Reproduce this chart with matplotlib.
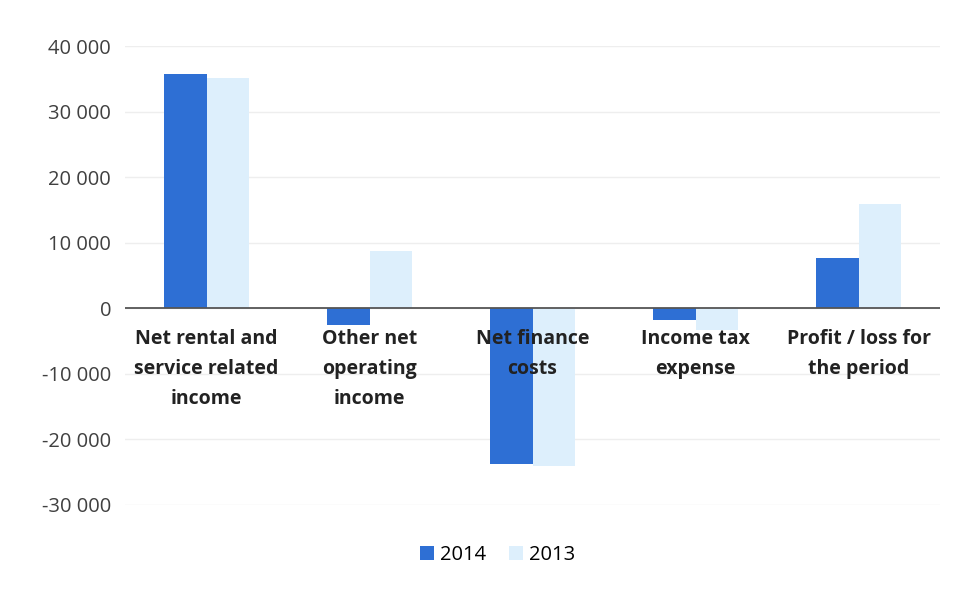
import matplotlib.pyplot as plt
import numpy as np
from matplotlib.ticker import FuncFormatter

plt.rcParams['font.family'] = ['Open Sans', 'DejaVu Sans']

categories = ["Net rental and\nservice related\nincome", "Other net\noperating\nincome",
              "Net finance\ncosts", "Income tax\nexpense", "Profit / loss for\nthe period"]
vals_2014 = [35700, -2600, -23800, -1800, 7600]
vals_2013 = [35100, 8800, -24100, -3300, 15900]

fig = plt.figure(figsize=(9.57, 5.89), dpi=100)
ax = fig.add_axes([125 / 957, 1 - 505 / 589, 815 / 957, 459 / 589])

x = np.arange(len(categories))
w = 0.26
ax.bar(x - w / 2, vals_2014, w, color="#2E6FD4", label="2014", zorder=2)
ax.bar(x + w / 2, vals_2013, w, color="#DDEFFC", label="2013", zorder=2)

ax.set_xlim(-0.5, len(categories) - 0.5)
ax.set_ylim(-30000, 40000)
ax.set_yticks(np.arange(-30000, 40001, 10000))
ax.yaxis.set_major_formatter(FuncFormatter(lambda v, p: f"{int(v):,}".replace(",", " ")))
ax.tick_params(axis='y', length=0, labelsize=14.5, labelcolor="#404040", pad=10)
ax.set_xticks([])
ax.grid(axis='y', color="#EEEEEE", linewidth=1, zorder=0)
for s in ax.spines.values():
    s.set_visible(False)
ax.axhline(0, color="#555555", linewidth=1.3, zorder=3)

for xi, lab in zip(x, categories):
    ax.annotate(lab, (xi, 0), xytext=(0, -15), textcoords="offset points",
                ha="center", va="top", fontsize=14, fontweight="bold",
                color="#222222", linespacing=1.65, zorder=4)

fig.legend(loc="center", bbox_to_anchor=(0.52, 1 - 555 / 589), ncol=2, frameon=False,
           fontsize=14.5, handlelength=0.7, handleheight=0.7, handletextpad=0.3,
           columnspacing=1.1)

fig.savefig("out.png", dpi=100)
